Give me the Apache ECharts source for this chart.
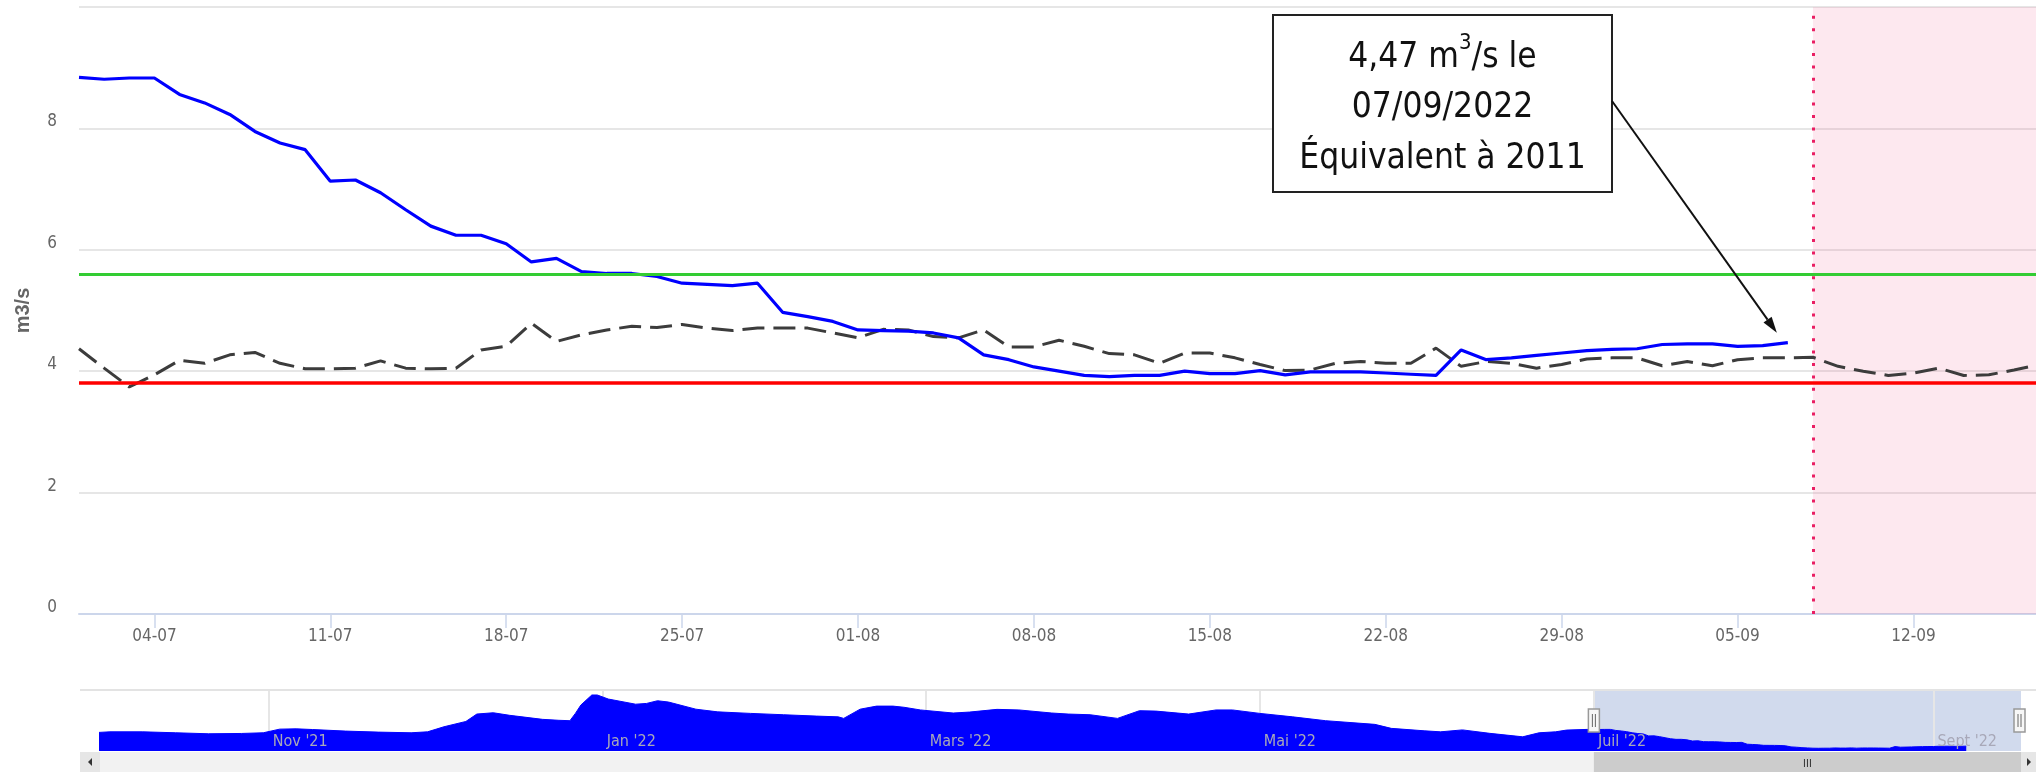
<!DOCTYPE html>
<html>
<head>
<meta charset="utf-8">
<script src="https://cdn.jsdelivr.net/npm/echarts@6/dist/echarts.min.js"></script>
<style>html,body{margin:0;padding:0;background:#fff}#c{width:2036px;height:772px}</style>
</head>
<body>
<div id="c"></div>
<script>
// ---------------- DATA ----------------
const days = [
 '2022-07-01','2022-07-02','2022-07-03','2022-07-04','2022-07-05','2022-07-06','2022-07-07','2022-07-08','2022-07-09','2022-07-10',
 '2022-07-11','2022-07-12','2022-07-13','2022-07-14','2022-07-15','2022-07-16','2022-07-17','2022-07-18','2022-07-19','2022-07-20',
 '2022-07-21','2022-07-22','2022-07-23','2022-07-24','2022-07-25','2022-07-26','2022-07-27','2022-07-28','2022-07-29','2022-07-30',
 '2022-07-31','2022-08-01','2022-08-02','2022-08-03','2022-08-04','2022-08-05','2022-08-06','2022-08-07','2022-08-08','2022-08-09',
 '2022-08-10','2022-08-11','2022-08-12','2022-08-13','2022-08-14','2022-08-15','2022-08-16','2022-08-17','2022-08-18','2022-08-19',
 '2022-08-20','2022-08-21','2022-08-22','2022-08-23','2022-08-24','2022-08-25','2022-08-26','2022-08-27','2022-08-28','2022-08-29',
 '2022-08-30','2022-08-31','2022-09-01','2022-09-02','2022-09-03','2022-09-04','2022-09-05','2022-09-06','2022-09-07','2022-09-08',
 '2022-09-09','2022-09-10','2022-09-11','2022-09-12','2022-09-13','2022-09-14','2022-09-15','2022-09-16','2022-09-17'
];
// observed discharge 2022 (m3/s), solid blue
const debitObserve = [
 8.84, 8.81, 8.83, 8.83, 8.56, 8.42, 8.23, 7.95, 7.76, 7.65,
 7.13, 7.15, 6.94, 6.66, 6.39, 6.24, 6.24, 6.10, 5.80, 5.86,
 5.64, 5.61, 5.61, 5.56, 5.45, 5.43, 5.41, 5.45, 4.97, 4.90,
 4.82, 4.68, 4.67, 4.66, 4.63, 4.55, 4.27, 4.19, 4.07, 4.00,
 3.93, 3.91, 3.93, 3.93, 4.00, 3.96, 3.96, 4.01, 3.94, 3.99,
 3.99, 3.99, 3.97, 3.95, 3.93, 4.35, 4.19, 4.22, 4.26, 4.30,
 4.34, 4.36, 4.37, 4.44, 4.45, 4.45, 4.41, 4.42, 4.47
];
// reference year discharge (dashed)
const debitReference = [
 4.37, 4.05, 3.74, 3.94, 4.18, 4.13, 4.27, 4.31, 4.13, 4.04,
 4.04, 4.05, 4.17, 4.05, 4.04, 4.05, 4.35, 4.41, 4.79, 4.49,
 4.60, 4.68, 4.74, 4.72, 4.77, 4.71, 4.67, 4.71, 4.71, 4.71,
 4.63, 4.55, 4.69, 4.68, 4.57, 4.55, 4.68, 4.40, 4.40, 4.51,
 4.41, 4.29, 4.27, 4.13, 4.30, 4.30, 4.22, 4.11, 4.01, 4.02,
 4.13, 4.16, 4.13, 4.13, 4.38, 4.08, 4.16, 4.13, 4.05, 4.11,
 4.20, 4.22, 4.22, 4.09, 4.16, 4.09, 4.19, 4.22, 4.22, 4.23,
 4.08, 4.00, 3.93, 3.97, 4.05, 3.93, 3.94, 4.02, 4.11
];
const seuilVigilance = 5.59;   // green
const seuilAlerte = 3.81;      // red
const forecastStart = '2022-09-08';
const xTickDates = ['2022-07-04','2022-07-11','2022-07-18','2022-07-25','2022-08-01','2022-08-08','2022-08-15','2022-08-22','2022-08-29','2022-09-05','2022-09-12'];
const xTickLabels = ['04-07','11-07','18-07','25-07','01-08','08-08','15-08','22-08','29-08','05-09','12-09'];
const yTicks = [0, 2, 4, 6, 8, 10];

// navigator: earlier part of the year (before the zoomed window)
const navDates = ['2021-10-01','2021-10-03','2021-10-09','2021-10-15','2021-10-21','2021-10-27','2021-10-31','2021-11-03','2021-11-06','2021-11-09','2021-11-15','2021-11-21','2021-11-27','2021-11-30','2021-12-03','2021-12-07','2021-12-09','2021-12-12','2021-12-15','2021-12-21','2021-12-24','2021-12-26','2021-12-27','2021-12-28','2021-12-30','2021-12-31','2022-01-02','2022-01-07','2022-01-09','2022-01-11','2022-01-13','2022-01-18','2022-01-22','2022-01-28','2022-02-03','2022-02-09','2022-02-13','2022-02-14','2022-02-17','2022-02-20','2022-02-23','2022-02-25','2022-02-28','2022-03-06','2022-03-09','2022-03-14','2022-03-18','2022-03-24','2022-03-27','2022-03-31','2022-04-05','2022-04-09','2022-04-12','2022-04-18','2022-04-23','2022-04-26','2022-05-01','2022-05-07','2022-05-13','2022-05-22','2022-05-25','2022-05-31','2022-06-03','2022-06-07','2022-06-12','2022-06-18','2022-06-21','2022-06-24','2022-06-26','2022-06-30'];
const navValues = [8.05, 8.2, 8.2, 7.95, 7.69, 7.77, 7.95, 8.9, 8.98, 8.8, 8.39, 8.12, 7.95, 8.2, 9.52, 10.9, 12.83, 13.17, 12.5, 11.45, 11.2, 11.1, 13.0, 15.18, 17.8, 17.8, 16.75, 15.4, 15.6, 16.3, 15.96, 14.1, 13.4, 13.0, 12.65, 12.3, 12.1, 11.7, 14.1, 14.9, 14.9, 14.6, 13.9, 13.1, 13.35, 14.05, 13.9, 13.1, 12.83, 12.65, 11.7, 13.7, 13.6, 12.83, 13.9, 13.9, 13.0, 12.1, 11.1, 10.14, 9.1, 8.47, 8.2, 8.7, 7.8, 6.9, 7.95, 8.2, 8.65, 8.84];
const navTickDates = ['2021-11-01','2022-01-01','2022-03-01','2022-05-01','2022-07-01','2022-09-01'];
const navTickLabels = ["Nov '21", "Jan '22", "Mars '22", "Mai '22", "Juil '22", "Sept '22"];

const annotDate = '2022-09-07';
const annotValue = 4.47;
const annotYear = 2011;

// ---------------- HELPERS ----------------
const DAY = 86400000;
const T = s => { const [y, m, d] = s.split('-').map(Number); return Date.UTC(y, m - 1, d); };
const pad = n => (n < 10 ? '0' : '') + n;
const FONT = "'Liberation Sans Narrow','DejaVu Sans Condensed','Roboto Condensed','Liberation Sans',sans-serif";

const xMin = T('2022-07-01');
const xMax = T('2022-09-16') + 0.875 * DAY;
const navMin = T('2021-10-01');
const navMax = T('2022-09-17');
const xTickTs = xTickDates.map(T);
const navTickTs = navTickDates.map(T);

const obsData = debitObserve.map((v, i) => [T(days[i]), v]);
const refData = debitReference.map((v, i) => [T(days[i]), v]);
const navData = navDates.map((d, i) => [T(d), navValues[i]]).concat(obsData);

const chart = echarts.init(document.getElementById('c'), null, { renderer: 'canvas' });

const option = {
  animation: false,
  grid: [
    { left: 79, right: 0, top: 7, bottom: 158 },
    { left: 99, right: 15, top: 690, height: 61 }
  ],
  xAxis: [
    {
      gridIndex: 0, type: 'value', min: xMin, max: xMax, scale: true,
      axisLine: { show: true, onZero: false, lineStyle: { color: '#ccd6eb', width: 2 } },
      axisTick: { show: true, length: 14, customValues: xTickTs, lineStyle: { color: '#ccd6eb', width: 1.5 } },
      axisLabel: {
        customValues: xTickTs, margin: 14, color: '#666666', fontSize: 17, fontFamily: FONT,
        formatter: v => { const i = xTickTs.indexOf(v); return i >= 0 ? xTickLabels[i] : ''; }
      },
      splitLine: { show: false }
    },
    {
      gridIndex: 1, type: 'value', min: navMin, max: navMax, scale: true, z: 10,
      axisLine: { show: false },
      axisTick: { show: false, customValues: navTickTs },
      axisLabel: {
        customValues: navTickTs, inside: true, align: 'left', verticalAlign: 'middle', margin: 9,
        padding: [0, 0, 0, 4], color: '#a8a8b8', fontSize: 16, fontFamily: FONT,
        formatter: v => { const i = navTickTs.indexOf(v); return i >= 0 ? navTickLabels[i] : ''; }
      },
      splitLine: { show: false }
    }
  ],
  yAxis: [
    {
      gridIndex: 0, type: 'value', min: yTicks[0], max: yTicks[yTicks.length - 1], interval: 2,
      name: 'm3/s', nameLocation: 'middle', nameGap: 46, nameRotate: 90,
      nameTextStyle: { color: '#666666', fontSize: 20, fontFamily: "'Liberation Sans',sans-serif", fontWeight: 'bold' },
      axisLine: { show: false }, axisTick: { show: false },
      axisLabel: {
        showMaxLabel: false, color: '#666666', fontSize: 17, fontFamily: FONT, margin: 22,
        verticalAlign: 'bottom', lineHeight: 13, padding: 0
      },
      splitLine: { lineStyle: { color: '#e6e6e6', width: 2 } }
    },
    { gridIndex: 1, type: 'value', min: 3.2, max: 19.1, show: false }
  ],
  series: [
    {
      name: 'Prévision', type: 'line', xAxisIndex: 0, yAxisIndex: 0, data: [], z: 1, silent: true,
      markArea: {
        silent: true,
        itemStyle: { color: 'rgba(236,64,122,0.12)' },
        data: [[{ xAxis: T(forecastStart) }, { xAxis: xMax }]]
      },
      markLine: {
        silent: true, symbol: 'none', label: { show: false },
        lineStyle: { color: '#e91e63', width: 3, type: [3, 9.4] },
        data: [{ xAxis: T(forecastStart) }]
      }
    },
    {
      name: 'Seuils', type: 'line', xAxisIndex: 0, yAxisIndex: 0, data: [], z: 2, silent: true,
      markLine: {
        silent: true, symbol: 'none', label: { show: false },
        data: [
          { yAxis: seuilVigilance, lineStyle: { color: '#33cc33', width: 3, type: 'solid' } },
          { yAxis: seuilAlerte, lineStyle: { color: '#ff0000', width: 3.5, type: 'solid' } }
        ]
      }
    },
    {
      name: 'Référence', type: 'line', xAxisIndex: 0, yAxisIndex: 0, data: refData, z: 3,
      showSymbol: false, symbol: 'none',
      lineStyle: { color: '#3c3c3c', width: 3, type: [22, 9] }
    },
    {
      name: 'Débit 2022', type: 'line', xAxisIndex: 0, yAxisIndex: 0, data: obsData, z: 4,
      showSymbol: false, symbol: 'none',
      lineStyle: { color: '#0000ff', width: 3.2 }
    },
    {
      name: 'Navigateur', type: 'line', xAxisIndex: 1, yAxisIndex: 1, data: navData, z: 2,
      showSymbol: false, symbol: 'none', silent: true,
      lineStyle: { color: '#0000ff', width: 1 },
      areaStyle: { color: '#0000ff', opacity: 1 },
      markLine: {
        silent: true, symbol: 'none', label: { show: false }, z: 1,
        lineStyle: { color: '#e6e6e6', width: 2, type: 'solid' },
        data: navTickTs.map(t => ({ xAxis: t }))
      }
    },
    {
      name: 'Sélection', type: 'line', xAxisIndex: 1, yAxisIndex: 1, data: [], z: 5, silent: true,
      markArea: {
        silent: true,
        itemStyle: { color: 'rgba(102,133,194,0.3)' },
        data: [[{ xAxis: xMin }, { xAxis: navMax }]]
      }
    }
  ]
};
chart.setOption(option);

// ---------------- ANNOTATION & NAVIGATOR CHROME ----------------
const p = chart.convertToPixel({ xAxisIndex: 0, yAxisIndex: 0 }, [T(annotDate), annotValue]);
const start = [1612, 101];
const end = [p[0] - 11, p[1] - 10];
const dx = end[0] - start[0], dy = end[1] - start[1];
const L = Math.sqrt(dx * dx + dy * dy);
const ux = dx / L, uy = dy / L;
const base = [end[0] - ux * 16, end[1] - uy * 16];
const nx = -uy, ny = ux;

const selLeft = chart.convertToPixel({ xAxisIndex: 1, yAxisIndex: 1 }, [xMin, 3.2])[0];
const navRight = chart.convertToPixel({ xAxisIndex: 1, yAxisIndex: 1 }, [navMax, 3.2])[0];
const cx = (selLeft + navRight) / 2;

const valTxt = annotValue.toFixed(2).replace('.', ',');
const d = new Date(T(annotDate));
const dateTxt = pad(d.getUTCDate()) + '/' + pad(d.getUTCMonth() + 1) + '/' + d.getUTCFullYear();

function handle(x) {
  return [
    { type: 'rect', shape: { x: x - 5.5, y: 709, width: 11, height: 23 }, style: { fill: '#f7f7f7', stroke: '#999', lineWidth: 1.5 }, z: 100 },
    { type: 'line', shape: { x1: x - 1.5, y1: 714, x2: x - 1.5, y2: 727 }, style: { stroke: '#666', lineWidth: 1 }, z: 101 },
    { type: 'line', shape: { x1: x + 1.5, y1: 714, x2: x + 1.5, y2: 727 }, style: { stroke: '#666', lineWidth: 1 }, z: 101 }
  ];
}

chart.setOption({
  graphic: [
    { type: 'rect', shape: { x: 1273, y: 15, width: 339, height: 177 }, style: { fill: '#ffffff', stroke: '#222', lineWidth: 2 }, z: 100 },
    {
      type: 'text', x: 1442.5, y: 108, z: 101,
      style: {
        text: '{a|' + valTxt + ' m}{s|3}{a|/s le}\n{a|' + dateTxt + '}\n{a|Équivalent à ' + annotYear + '}',
        align: 'center', verticalAlign: 'middle', fill: '#111',
        fontSize: 35, fontFamily: FONT, lineHeight: 50.5,
        rich: {
          a: { fontSize: 35, fontFamily: FONT, lineHeight: 50.5, fill: '#111', color: '#111' },
          s: { fontSize: 22, fontFamily: FONT, lineHeight: 36, verticalAlign: 'top', fill: '#111', color: '#111' }
        }
      }
    },
    { type: 'line', shape: { x1: start[0], y1: start[1], x2: base[0], y2: base[1] }, style: { stroke: '#111', lineWidth: 2 }, z: 100 },
    { type: 'polygon', shape: { points: [end, [base[0] + nx * 5, base[1] + ny * 5], [base[0] - nx * 5, base[1] - ny * 5]] }, style: { fill: '#111' }, z: 100 },
    { type: 'line', shape: { x1: 80, y1: 690, x2: 2036, y2: 690 }, style: { stroke: '#e3e3e3', lineWidth: 2 }, z: 50 },
    { type: 'rect', shape: { x: 80, y: 752, width: 1956, height: 20 }, style: { fill: '#f2f2f2' }, z: 50 },
    { type: 'rect', shape: { x: 80, y: 752, width: 20, height: 20 }, style: { fill: '#e6e6e6' }, z: 51 },
    { type: 'polygon', shape: { points: [[92, 758], [92, 766], [88, 762]] }, style: { fill: '#333' }, z: 52 },
    { type: 'rect', shape: { x: navRight, y: 752, width: 2036 - navRight, height: 20 }, style: { fill: '#e6e6e6' }, z: 51 },
    { type: 'polygon', shape: { points: [[navRight + 6, 758], [navRight + 6, 766], [navRight + 10, 762]] }, style: { fill: '#333' }, z: 52 },
    { type: 'rect', shape: { x: selLeft, y: 752, width: navRight - selLeft, height: 20 }, style: { fill: '#cccccc' }, z: 51 },
    { type: 'line', shape: { x1: cx - 3, y1: 759, x2: cx - 3, y2: 767 }, style: { stroke: '#333', lineWidth: 1 }, z: 52 },
    { type: 'line', shape: { x1: cx, y1: 759, x2: cx, y2: 767 }, style: { stroke: '#333', lineWidth: 1 }, z: 52 },
    { type: 'line', shape: { x1: cx + 3, y1: 759, x2: cx + 3, y2: 767 }, style: { stroke: '#333', lineWidth: 1 }, z: 52 }
  ].concat(handle(selLeft), handle(navRight - 1.5))
});
</script>
</body>
</html>
